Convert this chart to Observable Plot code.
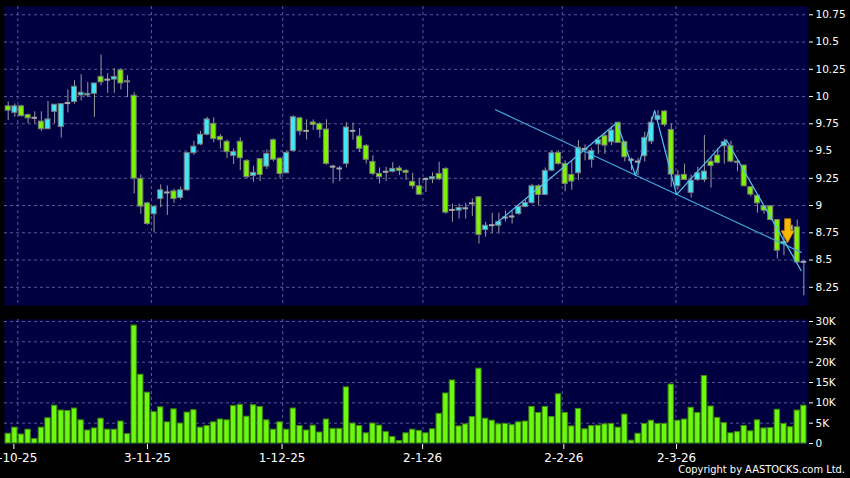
<!DOCTYPE html>
<html>
<head>
<meta charset="utf-8">
<script src="https://cdn.jsdelivr.net/npm/d3@7"></script>
<script src="https://cdn.jsdelivr.net/npm/@observablehq/plot@0.6"></script>
<style>
  html, body { margin: 0; padding: 0; background: #000; }
  body { width: 850px; height: 478px; overflow: hidden; position: relative; font-family: "DejaVu Sans", sans-serif; }
  #chart svg { display: block; }
  #copy { position: absolute; right: 5px; top: 463px; color: #fff; font-family: "DejaVu Sans Condensed", "DejaVu Sans", sans-serif; font-size: 11px; line-height: 13px; white-space: nowrap; }
</style>
</head>
<body>
<div id="chart"></div>
<div id="copy">Copyright by AASTOCKS.com Ltd.</div>
<script>
// ---- data (index 0 = first trading day shown) ----
const opens = [9.91,9.85,9.91,9.83,9.805,9.77,9.70,9.86,9.72,9.94,9.95,10.01,10.01,10.025,10.18,10.155,10.155,10.24,10.14,10.007,
  9.245,9.02,8.92,9.06,9.12,9.13,9.07,9.14,9.48,9.56,9.65,9.75,9.63,9.585,9.455,9.585,9.41,9.27,9.425,9.357,
  9.60,9.43,9.296,9.50,9.80,9.685,9.762,9.747,9.697,9.357,9.34,9.382,9.685,9.633,9.547,9.40,9.29,9.31,9.31,9.34,
  9.318,9.217,9.177,9.244,9.24,9.29,9.336,8.96,8.953,8.975,9.02,9.076,8.775,8.82,8.815,8.89,8.90,8.922,8.987,9.023,
  9.177,9.097,9.32,9.483,9.382,9.281,9.296,9.52,9.42,9.56,9.636,9.581,9.759,9.581,9.42,9.403,9.452,9.587,9.786,9.863,
  9.694,9.177,9.281,9.116,9.235,9.235,9.403,9.459,9.544,9.544,9.403,9.367,9.168,9.09,8.993,8.993,8.867,8.647,8.77,8.80,
  8.484];
const highs = [9.95,9.93,9.92,9.84,9.86,9.86,9.955,9.925,9.93,10.06,10.145,10.20,10.13,10.12,10.38,10.21,10.256,10.256,10.19,10.035,
  9.28,9.03,8.99,9.19,9.18,9.15,9.17,9.49,9.59,9.68,9.81,9.805,9.65,9.60,9.52,9.62,9.42,9.36,9.43,9.51,
  9.61,9.44,9.50,9.823,9.81,9.786,9.786,9.76,9.786,9.37,9.36,9.76,9.756,9.707,9.56,9.456,9.345,9.35,9.394,9.36,
  9.33,9.296,9.244,9.253,9.30,9.397,9.345,9.014,9.014,9.02,9.06,9.082,8.846,8.93,8.93,8.95,8.946,9.008,9.05,9.195,
  9.19,9.345,9.50,9.50,9.41,9.41,9.596,9.556,9.526,9.627,9.66,9.725,9.765,9.59,9.434,9.434,9.673,9.81,9.87,9.87,
  9.75,9.32,9.38,9.28,9.35,9.643,9.44,9.52,9.61,9.59,9.42,9.37,9.17,9.10,9.00,9.00,8.87,8.75,8.867,8.867,
  8.49];
const lows = [9.78,9.81,9.81,9.75,9.75,9.68,9.70,9.75,9.62,9.85,9.93,9.96,9.99,9.81,10.10,10.03,10.03,10.06,9.99,9.107,
  8.92,8.82,8.754,8.98,8.91,9.02,9.05,9.13,9.46,9.55,9.64,9.575,9.52,9.43,9.376,9.32,9.244,9.213,9.22,9.33,
  9.40,9.244,9.29,9.49,9.64,9.60,9.69,9.618,9.37,9.20,9.22,9.345,9.60,9.486,9.38,9.275,9.198,9.22,9.30,9.275,
  9.23,9.15,9.09,9.12,9.20,9.23,8.92,8.846,8.876,8.876,8.898,8.647,8.71,8.74,8.74,8.85,8.83,8.91,8.98,9.01,
  9.00,9.09,9.31,9.37,9.128,9.14,9.23,9.41,9.345,9.47,9.47,9.55,9.57,9.40,9.32,9.275,9.40,9.56,9.78,9.72,
  9.167,9.14,9.23,9.07,9.22,9.21,9.16,9.38,9.38,9.39,9.31,9.17,9.08,8.93,8.92,8.86,8.509,8.54,8.76,8.47,
  8.172];
const closes = [9.87,9.91,9.82,9.80,9.805,9.70,9.79,9.925,9.93,9.94,10.09,10.035,10.025,10.12,10.13,10.155,10.18,10.12,10.13,9.247,
  8.99,8.83,8.99,9.14,9.12,9.06,9.14,9.48,9.54,9.65,9.79,9.61,9.60,9.49,9.49,9.434,9.26,9.30,9.28,9.474,
  9.42,9.29,9.483,9.81,9.68,9.685,9.74,9.694,9.382,9.357,9.34,9.716,9.685,9.52,9.42,9.29,9.26,9.31,9.336,9.318,
  9.30,9.177,9.10,9.244,9.26,9.24,8.935,8.96,8.978,8.975,9.02,8.73,8.815,8.82,8.85,8.89,8.90,8.987,9.023,9.177,
  9.097,9.318,9.48,9.382,9.198,9.22,9.53,9.52,9.50,9.60,9.55,9.688,9.575,9.443,9.42,9.403,9.621,9.759,9.82,9.74,
  9.284,9.275,9.235,9.229,9.296,9.312,9.363,9.391,9.581,9.403,9.391,9.177,9.10,9.02,8.953,8.867,8.586,8.668,8.815,8.478,
  8.484];
const volumesK = [2.4,3.9,2.2,3.4,1.1,3.9,6.2,9.3,8.1,8.0,8.6,5.7,3.2,3.7,6.1,3.4,3.4,5.4,2.3,29.0,
  16.9,12.5,7.7,8.9,5.2,8.4,4.9,7.6,8.2,3.9,4.3,5.2,5.9,5.7,9.2,9.5,6.6,9.4,9.0,5.7,
  3.4,5.2,3.4,8.6,4.3,3.2,4.4,2.7,5.9,3.6,3.6,13.8,4.9,4.3,2.5,4.9,4.4,2.8,1.6,0.6,
  2.5,3.4,3.1,2.5,3.5,7.3,12.3,15.5,4.2,4.7,6.5,18.4,6.1,5.6,4.7,4.8,4.5,5.2,5.4,9.0,
  7.5,9.0,6.5,12.1,7.5,4.2,8.5,3.5,4.3,4.4,4.7,4.8,3.9,7.1,0.7,2.4,4.8,5.6,4.8,4.8,
  14.5,5.6,5.9,8.8,7.5,16.6,9.1,6.3,5.0,2.5,2.8,4.3,3.0,5.7,3.7,3.8,8.3,4.8,4.0,8.1,
  9.3];

const dateLabels = ["2-10-25", "3-11-25", "1-12-25", "2-1-26", "2-2-26", "2-3-26"];
const dateLabelPos = [0.85, 21.0, 41.3, 62.5, 83.8, 100.8];
const dateGridPos = [1.45, 21.6, 41.4, 62.55, 83.56, 100.7];
const priceTicks = [8.25, 8.5, 8.75, 9, 9.25, 9.5, 9.75, 10, 10.25, 10.5, 10.75];
const volumeTicks = [0, 5, 10, 15, 20, 25, 30];
const volumeTickLabels = ["0", "5K", "10K", "15K", "20K", "25K", "30K"];

// trend lines drawn on the chart
const trendIdx = [73.5, 119.6];
const trendPrice = [9.879, 8.570];
const zigzagIdx = [73.5, 91.8, 94.6, 97.5, 100.8, 108.3, 119.6];
const zigzagPrice = [8.831, 9.759, 9.275, 9.872, 9.10, 9.603, 8.402];
// signal arrow
const arrowIdx = [117.55];
const arrowPrice = [8.769];

// ---- build tables ----
const candles = opens.map((o, i) => ({i, o, h: highs[i], l: lows[i], c: closes[i], v: volumesK[i]}));
const bodies = candles.filter(d => d.o !== d.c);
const dojis = candles.filter(d => d.o === d.c);
const trend = trendIdx.map((i, k) => ({i, p: trendPrice[k]}));
const zigzag = zigzagIdx.map((i, k) => ({i, p: zigzagPrice[k]}));
const arrow = arrowIdx.map((i, k) => ({i, p: arrowPrice[k]}));

const BG = "#000040";
const GRID = "#5a5a98";
const GREEN = "#7cf400";
const CYAN = "#3ee8f8";
const XDOM = [-0.56, 120.7];

const arrowSymbol = {
  draw(ctx) {
    ctx.moveTo(-3, -12); ctx.lineTo(3, -12); ctx.lineTo(3, 0); ctx.lineTo(6.5, 0);
    ctx.lineTo(0, 12); ctx.lineTo(-6.5, 0); ctx.lineTo(-3, 0); ctx.closePath();
  }
};

const baseStyle = {background: "#000", color: "#fff", fontFamily: "DejaVu Sans, sans-serif", fontSize: "10.5px", overflow: "visible"};

const price = Plot.plot({
  width: 850, height: 312,
  marginLeft: 4, marginRight: 42, marginTop: 6, marginBottom: 7,
  style: baseStyle,
  color: {type: "identity"},
  x: {domain: XDOM, axis: null},
  y: {domain: [8.083, 10.826]},
  marks: [
    Plot.frame({fill: BG, stroke: "none"}),
    Plot.ruleY(priceTicks, {stroke: GRID, strokeDasharray: "3,3"}),
    Plot.ruleX(dateGridPos, {stroke: GRID, strokeDasharray: "3,3"}),
    Plot.axisY(priceTicks, {anchor: "right", tickSize: 4, tickPadding: 3, tickFormat: d => String(d), label: null, fontSize: 10.5, color: "#fff"}),
    Plot.ruleX(candles, {x: "i", y1: "l", y2: "h", stroke: "#9a9a9a", strokeWidth: 1}),
    Plot.rect(bodies, {x1: d => d.i - 0.38, x2: d => d.i + 0.38, y1: "o", y2: "c",
      fill: d => d.c > d.o ? CYAN : GREEN, stroke: "#7a7a7a", strokeWidth: 1}),
    Plot.ruleY(dojis, {y: "c", x1: d => d.i - 0.42, x2: d => d.i + 0.42, stroke: "#a8a8a8", strokeWidth: 2}),
    Plot.line(trend, {x: "i", y: "p", stroke: "#3fa9dc", strokeWidth: 1.2}),
    Plot.line(zigzag, {x: "i", y: "p", stroke: "#55c4ec", strokeWidth: 1.2}),
    Plot.dot(arrow, {x: "i", y: "p", symbol: arrowSymbol, r: 8, fill: "#f8b800", stroke: "#c98200", strokeWidth: 0.8})
  ]
});

const volume = Plot.plot({
  width: 850, height: 166,
  marginLeft: 4, marginRight: 42, marginTop: 7, marginBottom: 34,
  style: baseStyle,
  x: {domain: XDOM},
  y: {domain: [-0.246, 30.49]},
  marks: [
    Plot.frame({fill: BG, stroke: "none"}),
    Plot.ruleY(volumeTicks.slice(1), {stroke: GRID, strokeDasharray: "3,3"}),
    Plot.ruleX(dateGridPos, {stroke: GRID, strokeDasharray: "3,3"}),
    Plot.axisY(volumeTicks, {anchor: "right", tickSize: 4, tickPadding: 3, tickFormat: (d, k) => volumeTickLabels[k], label: null, fontSize: 10.5, color: "#fff"}),
    Plot.axisX(dateLabelPos, {anchor: "bottom", tickSize: 5, tickPadding: 4, tickFormat: (d, k) => dateLabels[k], label: null, fontSize: 12, color: "#fff"}),
    Plot.rect(candles, {x1: d => d.i - 0.4, x2: d => d.i + 0.4, y1: 0, y2: "v", fill: "#6cf810", stroke: "#3c8a08", strokeWidth: 1})
  ]
});

const chart = document.getElementById("chart");
chart.appendChild(price);
chart.appendChild(volume);
</script>
</body>
</html>
